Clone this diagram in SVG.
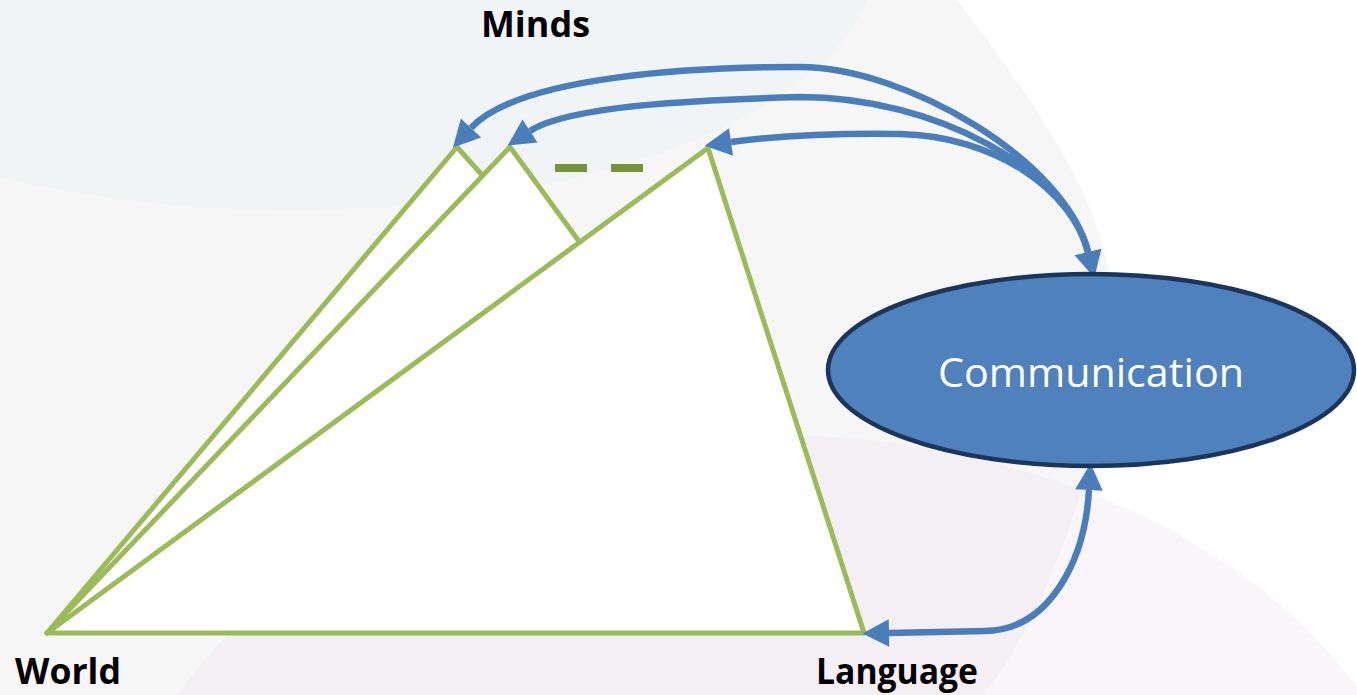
<svg xmlns="http://www.w3.org/2000/svg" width="1357" height="695" viewBox="0 0 1357 695">
  <style>
    .tri { fill: none; stroke: #9bbb59; stroke-width: 5; stroke-linejoin: round; stroke-linecap: round; }
    .conn { fill: none; stroke: #4a7ebb; stroke-width: 6.5; }
    .lbl { font-family: "Open Sans", "Liberation Sans", sans-serif; font-weight: bold; font-size: 35px; fill: #000000; }
    .node-text { font-family: "Open Sans", "Liberation Sans", sans-serif; font-size: 40px; fill: #ffffff; }
  </style>
  <defs>
    <marker id="arrow" markerUnits="userSpaceOnUse" markerWidth="30" markerHeight="30" viewBox="0 -13 25 26" refX="0" refY="0" orient="auto-start-reverse">
      <path d="M0,-12 L23,0 L0,12 Z" fill="#4a7ebb"/>
    </marker>
  </defs>

  <g id="background">
    <rect x="0" y="0" width="1357" height="695" fill="#ffffff"/>
    <path d="M0,0 L957,0 C1040,110 1105,200 1112,300 C1118,400 1060,600 983,695 L0,695 Z" fill="#f6f6f6"/>
    <ellipse cx="290" cy="-40" rx="584" ry="250" fill="#f0f4f5"/>
    <ellipse cx="770" cy="900" rx="660" ry="465" fill="#ede1ed" fill-opacity="0.33"/>
  </g>

  <g id="triangles">
    <path d="M47,633 L457,147 L482,175 L510,147 L578,240 L708,148 L864,633 Z" fill="#ffffff"/>
    <path class="tri" d="M47,633 L708,148 L864,633 Z"/>
    <path class="tri" d="M47,633 L510,147 L578,240"/>
    <path class="tri" d="M47,633 L457,147 L482,175"/>
    <line x1="555" y1="168" x2="643" y2="168" stroke="#77933c" stroke-width="8" stroke-dasharray="32 24"/>
  </g>

  <g id="connectors">
    <path class="conn" d="M471,128 C520,75 700,67 800,67 C905,67 1065,160 1088,252" marker-start="url(#arrow)" marker-end="url(#arrow)"/>
    <path class="conn" d="M530,131 C570,105 700,100 800,97 C935,97 1068,170 1088,252" marker-start="url(#arrow)"/>
    <path class="conn" d="M731,142 C780,135 850,133 900,134 C995,136 1072,190 1088,252" marker-start="url(#arrow)"/>
    <path class="conn" d="M889,633 L985,631 C1050,630 1085,560 1089,490" stroke-width="5.5" marker-start="url(#arrow)" marker-end="url(#arrow)"/>
  </g>

  <g id="communication">
    <ellipse cx="1091" cy="370" rx="263" ry="96" fill="#4f81bd" stroke="#1b365a" stroke-width="4.5"/>
    <text class="node-text" x="1091" y="387" text-anchor="middle" textLength="306" lengthAdjust="spacingAndGlyphs">Communication</text>
  </g>

  <g id="minds">
    <text class="lbl" x="481" y="37" textLength="109" lengthAdjust="spacingAndGlyphs">Minds</text>
  </g>
  <g id="world">
    <text class="lbl" x="15" y="684" textLength="106" lengthAdjust="spacingAndGlyphs">World</text>
  </g>
  <g id="language">
    <text class="lbl" x="816" y="684" textLength="162" lengthAdjust="spacingAndGlyphs">Language</text>
  </g>
</svg>
